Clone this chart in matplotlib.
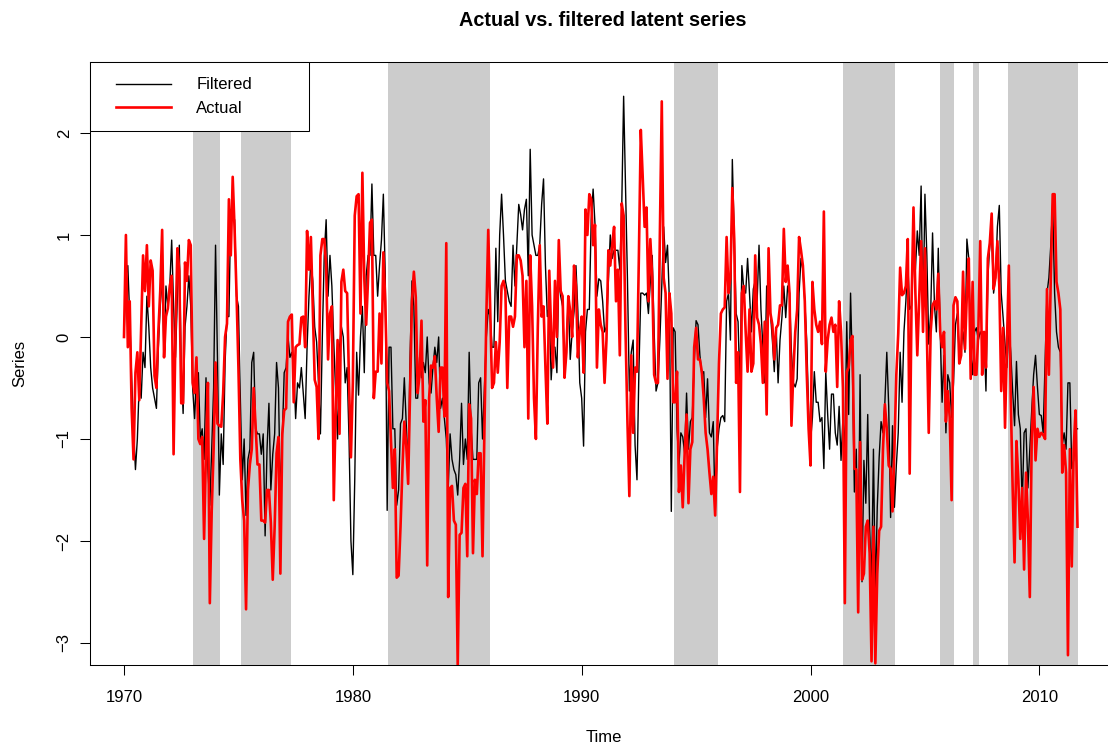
import numpy as np
import matplotlib
matplotlib.use("Agg")
import matplotlib.pyplot as plt
from matplotlib.lines import Line2D
from matplotlib.legend_handler import HandlerLine2D

# monthly values, Jan 1970 onwards
actual_70s = [0.0, 1.0, -0.1, 0.35, -0.7, -1.2, -0.35, -0.15, -0.62, 0.1, 0.8, 0.45,
              0.9, 0.3, 0.75, 0.65, -0.38, -0.5, 0.05, 0.45, 1.05, -0.2, 0.2, 0.28,
              0.5, 0.6, -1.15, 0.05, 0.87, 0.65, -0.65, -0.65, 0.73, 0.55, 0.95, 0.9,
              -0.45, -0.55, -0.2, -1.0, -1.05, -0.98, -1.98, -1.1, -0.45, -2.61, -1.7, -1.1,
              -0.25, -0.85, -0.87, -0.88, -0.55, 0.0, 0.13, 1.35, 0.8, 1.57, 1.05, 0.43,
              -0.3, -1.2, -1.6, -1.8, -2.67, -1.5, -1.25, -1.1, -0.5, -0.87, -1.25, -1.25,
              -1.8, -1.8, -1.82, -1.5, -1.5, -1.82, -2.38, -1.86, -1.14, -0.98, -2.32, -0.95,
              -0.72, -0.7, 0.15, 0.2, 0.22, -0.64, -0.1, -0.08, -0.07, 0.19, 0.2, -0.1,
              1.04, 0.66, 0.98, 0.27, -0.42, -0.49, -1.0, 0.8, 0.96, 0.96, 0.7, -0.22,
              0.23, 0.3, -1.6, -0.72, -0.03, -0.95, 0.54, 0.66, 0.45, 0.43, -0.45, -1.18]
actual_80s = [-0.45, 1.19, 1.38, 1.4, 0.23, 1.61, 0.58, 0.12, 0.58, 1.12, 1.15, -0.6,
              -0.34, -0.34, 0.23, -0.26, 0.83, 0.35, -0.45, -0.53, -1.02, -1.48, -1.1, -2.36,
              -2.34, -1.86, -1.29, -0.83, -1.06, -1.44, -0.53, 0.35, 0.64, 0.39, -0.55, -0.37,
              0.16, -0.83, -0.62, -2.24, -0.6, -0.28, -0.3, -0.19, -0.6, -0.93, -0.3, -0.3,
              -0.78, 0.92, -2.55, -1.48, -1.46, -1.8, -1.84, -3.22, -1.94, -1.92, -1.48, -1.44,
              -2.15, -0.66, -0.8, -2.12, -1.4, -1.54, -1.14, -1.14, -2.15, -0.9, 0.2, 1.05,
              0.3, -0.5, -0.45, -0.05, -0.35, -0.05, 0.5, 0.55, 0.45, -0.5, 0.2, 0.2,
              0.1, 0.2, 0.8, 0.8, 0.75, 0.6, -0.1, 0.55, -0.8, 0.8, 0.3, -0.6,
              -1.0, 0.1, 0.9, 0.2, 0.3, -0.3, -0.85, 0.65, 0.05, -0.3, 0.55, 0.0,
              0.95, 0.45, 0.4, -0.4, -0.15, 0.4, 0.25, 0.0, 0.7, 0.5, -0.2, 0.05]
actual_90s = [0.2, -0.35, 1.25, 1.0, 1.4, 1.35, 0.9, 1.1, -0.3, 0.27, 0.12, 0.05,
              -0.45, -0.03, 0.85, 0.7, 0.9, 1.08, 0.35, 0.66, -0.18, 1.31, 1.19, 0.05,
              -0.83, -1.56, -0.18, -0.94, -0.3, -0.34, 0.8, 2.03, 1.57, 1.08, 1.27, 0.35,
              0.96, 0.58, -0.37, -0.45, -0.45, 1.0, 2.31, 0.58, 0.43, -0.41, 0.43, 0.23,
              -0.64, -0.64, -0.34, -1.52, -1.26, -1.67, -1.14, -0.76, -1.63, -1.1, -1.03, -0.1,
              0.09, -0.22, -0.22, -0.34, -0.6, -0.94, -1.1, -1.33, -1.54, -1.37, -1.75, -1.03,
              -0.26, 0.23, 0.27, 0.29, 0.98, 0.43, 0.58, 1.46, 0.96, -0.45, -0.15, -1.52,
              0.43, 0.5, 0.05, -0.34, 0.27, -0.34, -0.26, 0.8, 0.19, 0.12, -0.07, -0.45,
              0.15, -0.76, 0.87, 0.23, 0.12, -0.22, 0.09, 0.12, 0.31, 0.31, 1.06, 0.54,
              0.7, 0.43, -0.87, -0.34, 0.05, 0.27, 0.98, 0.85, 0.7, 0.35, -0.34, -0.9]
actual_00s = [-1.26, 0.54, 0.27, 0.12, 0.05, 0.15, -0.07, 1.23, -0.34, -0.03, 0.12, 0.19,
              0.05, 0.12, -0.49, 0.35, 0.05, -0.5, -2.61, -0.34, -0.3, -0.03, 0.01, -1.29,
              -1.3, -2.7, -1.03, -2.38, -2.32, -1.86, -1.8, -2.12, -3.18, -1.86, -3.2, -2.32,
              -1.9, -1.86, -1.1, -0.66, -0.9, -1.26, -1.29, -1.71, -1.1, -0.37, 0.03, 0.68,
              0.41, 0.43, 0.5, 0.96, -1.34, 0.35, 1.27, 0.43, -0.18, 0.39, 0.94, 0.05,
              0.87, 0.05, -0.94, 0.05, 0.31, 0.35, 0.27, 0.62, 0.05, -0.1, 0.05, -0.83,
              -0.53, -0.79, -1.6, 0.31, 0.39, 0.35, -0.26, -0.18, 0.64, -0.12, 0.43, 0.77,
              -0.41, 0.54, -0.37, -0.37, 0.05, 0.94, -0.37, 0.05, -0.3, 0.77, 0.92, 1.21,
              0.47, 0.58, 0.94, 0.5, -0.53, 0.09, -0.89, -0.07, 0.7, -0.6, -1.48, -2.21,
              -1.02, -1.41, -1.98, -1.48, -2.28, -1.33, -1.8, -2.55, -1.0, -0.49, -1.21, -0.9]
actual_10s = [-0.98, -0.94, -0.96, -1.0, 0.47, -0.37, 0.58, 1.4, 1.4, 0.54, 0.43, 0.27,
              -1.33, -1.06, -1.33, -3.12, -1.1, -2.25, -1.1, -0.72, -1.86]

filtered_70s = [0.0, 0.6, 0.7, 0.2, -0.4, -0.9, -1.3, -1.0, -0.45, -0.6, -0.15, -0.3,
                0.4, 0.1, -0.3, -0.5, -0.6, -0.7, -0.1, 0.3, 0.6, -0.2, 0.5, 0.3,
                0.5, 0.95, 0.3, -0.2, 0.4, 0.9, -0.3, -0.75, 0.1, 0.3, 0.6, 0.3,
                -0.5, -0.8, -0.4, -0.35, -1.0, -0.9, -1.2, -0.4, -1.3, -1.65, -1.1, -0.5,
                0.9, -0.2, -1.55, -0.95, -1.25, -0.25, 0.2, 0.2, 1.25, 1.15, 1.15, 0.4,
                0.3, -0.6, -1.4, -1.0, -1.75, -1.2, -1.1, -0.25, -0.15, -0.9, -0.95, -0.95,
                -1.15, -0.95, -1.95, -1.1, -0.65, -1.5, -1.15, -0.95, -0.25, -0.5, -1.6, -1.0,
                -0.35, -0.3, 0.0, -0.2, -0.15, -0.3, -0.8, -0.45, -0.5, -0.3, -0.55, -0.8,
                -0.1, 0.4, 0.75, 0.55, 0.1, -0.05, -0.45, -0.95, 0.0, 0.8, 1.15, 0.4,
                0.8, 0.5, -0.05, -0.55, -1.0, -0.1, 0.1, 0.0, -0.45, -0.3, -1.0, -2.0]
filtered_80s = [-2.33, -1.4, -0.15, -0.57, 0.0, 0.3, -0.35, 0.6, 0.8, 0.8, 1.5, 0.8,
                0.8, 0.4, 0.7, 0.95, 1.4, 0.6, -1.7, -0.1, -0.1, -0.9, -0.9, -1.65,
                -1.5, -0.85, -0.8, -0.4, -0.85, -1.3, -0.2, 0.55, 0.3, -0.6, -0.6, -0.2,
                -0.4, -0.25, -0.35, 0.0, -0.45, -0.55, -0.3, -0.1, -0.25, 0.0, -0.7, -0.6,
                -0.8, -1.0, -1.5, -0.95, -1.2, -1.3, -1.35, -1.55, -1.2, -0.65, -1.25, -1.0,
                -1.2, -0.15, -0.9, -1.2, -1.2, -1.2, -0.45, -0.4, -1.0, -0.5, 0.0, 0.27,
                0.2, -0.1, -0.1, 0.87, 0.15, 1.0, 1.4, 1.0, 0.55, 0.45, 0.35, 0.3,
                0.9, 0.5, 0.9, 1.3, 1.2, 1.05, 1.25, 1.35, 0.6, 1.84, 1.0, 0.9,
                0.8, 0.8, 0.9, 1.3, 1.55, 0.7, 0.2, 0.3, -0.42, -0.1, -0.1, -0.35,
                0.6, 0.4, 0.3, -0.26, -0.1, 0.4, -0.22, 0.05, 0.25, 0.7, 0.25, -0.45]
filtered_90s = [-0.6, -1.07, 0.05, 0.27, 0.27, 1.15, 1.45, 1.1, 0.4, 0.57, 0.55, 0.35,
                0.05, 0.1, 0.55, 1.0, 0.77, 0.85, 0.85, 0.85, 0.66, 1.27, 2.36, 1.46,
                0.57, -0.53, -0.15, -0.03, -1.06, -1.4, -0.34, 0.43, 0.43, 0.41, 0.43, 0.23,
                0.54, 0.8, 0.05, -0.53, -0.45, -0.03, 0.5, 1.08, 0.73, 0.9, 0.35, -1.71,
                0.09, 0.05, -0.9, -1.26, -0.94, -0.98, -1.14, -0.55, -1.1, -0.83, -0.79, -0.26,
                0.16, 0.12, -0.18, -0.37, -0.34, -0.79, -0.41, -0.94, -0.98, -0.83, -1.75, -1.1,
                -0.9, -0.79, -0.77, -0.83, 0.35, 0.43, -0.03, 1.74, 1.0, 0.23, 0.15, -0.5,
                0.7, 0.47, 0.43, 0.77, 0.43, 0.05, 0.47, 0.55, 0.35, 0.9, 0.27, -0.1,
                -0.45, 0.5, 0.35, 0.23, -0.03, -0.34, 0.09, -0.45, -0.03, 0.19, 0.5, 0.19,
                0.5, 0.43, -0.15, -0.45, -0.49, -0.41, 0.43, 0.77, 0.66, 0.35, -0.03, -0.72]
filtered_00s = [-1.03, -0.79, -0.34, -0.64, -0.64, -0.83, -0.79, -1.29, -0.34, -0.76, -1.1, -0.56,
                -0.56, -0.94, -1.06, -0.68, -1.21, -0.79, -1.14, 0.15, -0.76, 0.43, -0.34, -1.52,
                -1.1, -2.25, -0.37, -2.4, -1.21, -1.63, -0.76, -1.86, -2.44, -1.1, -2.55, -1.67,
                -1.18, -0.83, -0.94, -0.64, -0.15, -0.68, -1.77, -0.87, -1.67, -1.26, -0.94, -0.15,
                -0.64, 0.05, 0.35, 0.73, 0.27, 0.31, 1.0, 0.66, 1.04, 0.8, 1.48, 0.19,
                1.4, 0.8, -0.07, 0.23, 1.02, 0.31, 0.05, 0.87, 0.05, -0.64, -0.18, -0.94,
                -0.37, -0.45, -0.79, -0.45, 0.12, 0.23, -0.18, -0.1, 0.05, -0.15, 0.96, 0.77,
                -0.15, -0.37, 0.05, 0.09, -0.03, 0.05, 0.01, 0.01, -0.53, 0.58, 0.9, 1.0,
                0.43, 0.58, 1.08, 1.29, 0.43, 0.19, -0.07, -0.3, 0.12, -0.15, -0.53, -0.87,
                -0.24, -0.76, -0.9, -1.67, -0.94, -0.9, -1.48, -1.1, -0.72, -0.37, -0.18, -0.49]
filtered_10s = [-0.76, -0.77, -0.94, -0.26, 0.43, 0.58, 0.9, 1.31, 0.43, 0.05, -0.1, -0.15,
                -1.06, -0.94, -1.1, -0.45, -0.45, -1.29, -1.21, -0.9, -0.9]

# shaded recession periods (start, end) in decimal years
recessions = [(1973.0, 1974.2), (1975.1, 1977.3), (1981.55, 1985.98), (1994.02, 1995.94),
              (2001.44, 2003.71), (2005.68, 2006.29), (2007.12, 2007.38), (2008.65, 2011.7)]

actual = np.array(actual_70s + actual_80s + actual_90s + actual_00s + actual_10s)
filtered = np.array(filtered_70s + filtered_80s + filtered_90s + filtered_00s + filtered_10s)
n = min(len(actual), len(filtered))
t = 1970 + np.arange(n) / 12.0

plt.rcParams["font.family"] = ["Liberation Sans", "DejaVu Sans"]

W, H = 1108, 749
fig = plt.figure(figsize=(W / 100, H / 100), dpi=100)
ax = fig.add_axes([90 / W, 84 / H, 1018 / W, 603 / H])

for a, b in recessions:
    ax.axvspan(a, b, color="#cccccc", lw=0, zorder=0)

ax.plot(t, filtered[:n], color="black", lw=1.0, label="Filtered", zorder=2)
ax.plot(t, actual[:n], color="#ff0000", lw=1.9, label="Actual", zorder=3)

ax.set_xlim(1968.514, 2013.0)
ax.set_ylim(-3.216, 2.696)
ax.set_xticks([1970, 1980, 1990, 2000, 2010])
ax.set_yticks([-3, -2, -1, 0, 1, 2])
ax.tick_params(direction="out", length=7.2, width=0.75, labelsize=12)
ax.tick_params(axis="x", pad=11)
ax.tick_params(axis="y", pad=6)
for lab in ax.get_yticklabels():
    lab.set_rotation(90)
    lab.set_va("center")
ax.spines["right"].set_visible(False)
for s in ["left", "top", "bottom"]:
    ax.spines[s].set_linewidth(0.75)

fig.text(604 / W, 1 - 738 / H, "Time", ha="center", va="center", fontsize=12)
fig.text(20 / W, 1 - 363 / H, "Series", ha="center", va="center", rotation=90, fontsize=12)
fig.text(603 / W, 1 - 20 / H, "Actual vs. filtered latent series", ha="center", va="center",
         fontsize=14.3, fontweight="bold")

leg = ax.legend(loc="upper left", bbox_to_anchor=(0, 1, 219 / 1018, 0), mode="expand",
                borderaxespad=0, fancybox=False, edgecolor="black", framealpha=1,
                fontsize=12, handlelength=3.96, handletextpad=1.5, borderpad=0.92,
                labelspacing=0.52, handler_map={Line2D: HandlerLine2D(xpad=0.66)})
leg.get_frame().set_linewidth(0.75)

fig.savefig("out.png", dpi=100)
